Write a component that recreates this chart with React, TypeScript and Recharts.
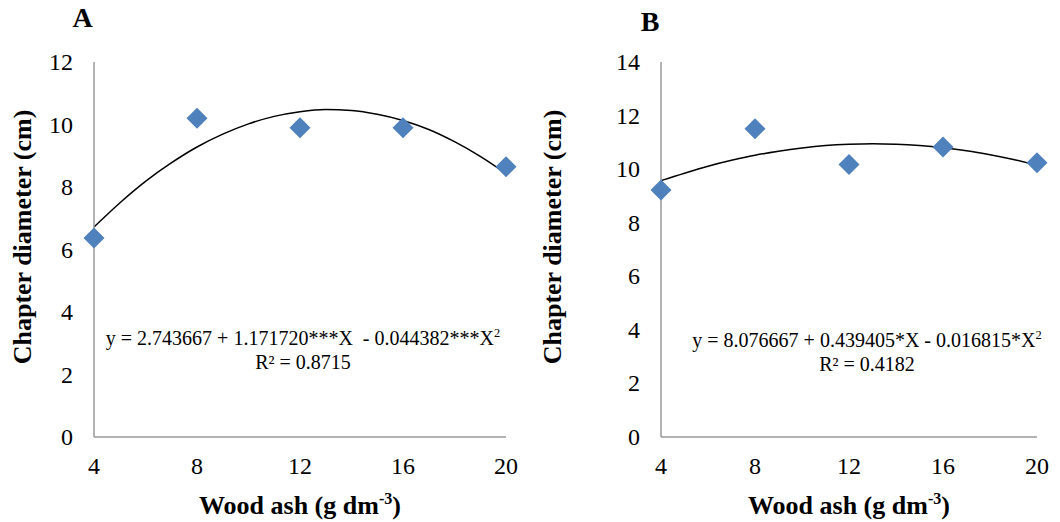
import React from "react";
import { ComposedChart, Line, Scatter, XAxis, YAxis } from "recharts";

// measured treatments (g dm-3) and observed chapter diameter (cm)
const dose = [4, 8, 12, 16, 20];
const diameterA = [6.37, 10.2, 9.9, 9.9, 8.65];
const diameterB = [9.22, 11.51, 10.17, 10.83, 10.24];

// fitted quadratic trend, read at each unit of dose
const curveDose = [4, 5, 6, 7, 8, 9, 10, 11, 12, 13, 14, 15, 16, 17, 18, 19, 20];
const curveA = [6.72, 7.49, 8.18, 8.77, 9.28, 9.69, 10.02, 10.26, 10.41, 10.48, 10.45, 10.33, 10.13, 9.84, 9.45, 8.98, 8.43];
const curveB = [9.57, 9.85, 10.11, 10.33, 10.52, 10.67, 10.79, 10.88, 10.93, 10.95, 10.93, 10.88, 10.8, 10.69, 10.54, 10.36, 10.14];

const xTicks = [4, 8, 12, 16, 20];
const yTicksA = [0, 2, 4, 6, 8, 10, 12];
const yTicksB = [0, 2, 4, 6, 8, 10, 12, 14];

const SERIF = "Liberation Serif, Times New Roman, serif";
const AXIS = "#9a9a9a";
const BLUE = "#4F81BD";

const Diamond = (props: any) => {
  const { cx, cy } = props;
  const r = 10.5;
  return (
    <polygon
      points={`${cx},${cy - r} ${cx + r},${cy} ${cx},${cy + r} ${cx - r},${cy}`}
      fill={BLUE}
    />
  );
};

const XTick = (props: any) => (
  <text x={props.x} y={props.y} dy={17} textAnchor="middle" fontSize={24} fontFamily={SERIF} fill="#000">
    {props.payload.value}
  </text>
);

const YTick = (props: any) => (
  <text x={props.x} y={props.y} dy={8} textAnchor="end" fontSize={24} fontFamily={SERIF} fill="#000">
    {props.payload.value}
  </text>
);

interface PanelProps {
  left: number;
  marginLeft: number;
  marginRight: number;
  points: number[];
  curve: number[];
  yTicks: number[];
  yMax: number;
}

function Panel({ left, marginLeft, marginRight, points, curve, yTicks, yMax }: PanelProps) {
  const pts = dose.map((x, i) => ({ x, y: points[i] }));
  const line = curveDose.map((x, i) => ({ x, y: curve[i] }));
  return (
    <div style={{ position: "absolute", left, top: 0 }}>
      <ComposedChart
        width={530}
        height={522}
        margin={{ top: 62, right: marginRight, bottom: 25, left: marginLeft }}
      >
        <XAxis
          dataKey="x"
          type="number"
          domain={[4, 20]}
          ticks={xTicks}
          tick={<XTick />}
          tickLine={false}
          tickSize={0}
          tickMargin={20}
          height={60}
          axisLine={{ stroke: AXIS, strokeWidth: 1.5 }}
        />
        <YAxis
          type="number"
          domain={[0, yMax]}
          ticks={yTicks}
          tick={<YTick />}
          tickLine={false}
          tickSize={0}
          tickMargin={21}
          width={60}
          axisLine={{ stroke: AXIS, strokeWidth: 1.5 }}
        />
        <Line
          data={line}
          dataKey="y"
          type="monotone"
          stroke="#000"
          strokeWidth={1.5}
          dot={false}
          isAnimationActive={false}
        />
        <Scatter data={pts} dataKey="y" shape={<Diamond />} isAnimationActive={false} />
      </ComposedChart>
    </div>
  );
}

const abs = (x: number, y: number, extra: React.CSSProperties = {}): React.CSSProperties => ({
  position: "absolute",
  left: x,
  top: y,
  fontFamily: SERIF,
  color: "#000",
  whiteSpace: "nowrap",
  ...extra,
});

const sup: React.CSSProperties = { fontSize: "0.62em", verticalAlign: "super", lineHeight: 0 };

function Titles({ dx, letter, letterX, letterY, eq, r2, eqX, eqY }: any) {
  return (
    <>
      <div style={abs(letterX, letterY, { fontSize: 28, fontWeight: "bold", lineHeight: "28px", transform: "translateX(-50%)" })}>
        {letter}
      </div>
      <div
        style={abs(dx + 22.5, 237, {
          fontSize: 26,
          fontWeight: "bold",
          lineHeight: "26px",
          transform: "translate(-50%, -50%) rotate(-90deg)",
        })}
      >
        Chapter diameter (cm)
      </div>
      <div style={abs(dx === 0 ? 300 : 849, 493, { fontSize: 26, fontWeight: "bold", lineHeight: "26px", transform: "translateX(-50%)" })}>
        Wood ash (g dm<span style={sup}>-3</span>)
      </div>
      <div style={abs(eqX, eqY, { fontSize: 20, lineHeight: "24px", textAlign: "center", transform: "translateX(-50%)" })}>
        <div>
          {eq}X<span style={sup}>2</span>
        </div>
        <div>{r2}</div>
      </div>
    </>
  );
}

export default function App() {
  return (
    <div style={{ position: "absolute", left: 0, top: 0, width: 1060, height: 522, background: "#fff", overflow: "hidden" }}>
      <Panel left={0} marginLeft={34} marginRight={24} points={diameterA} curve={curveA} yTicks={yTicksA} yMax={12} />
      <Panel left={530} marginLeft={71} marginRight={23} points={diameterB} curve={curveB} yTicks={yTicksB} yMax={14} />
      <Titles
        dx={0}
        letter="A"
        letterX={82.5}
        letterY={4}
        eq={"y = 2.743667 + 1.171720***X\u00a0\u00a0- 0.044382***"}
        r2="R² = 0.8715"
        eqX={303}
        eqY={326}
      />
      <Titles
        dx={530}
        letter="B"
        letterX={650}
        letterY={8}
        eq={"y = 8.076667 + 0.439405*X - 0.016815*"}
        r2="R² = 0.4182"
        eqX={867}
        eqY={328}
      />
    </div>
  );
}
